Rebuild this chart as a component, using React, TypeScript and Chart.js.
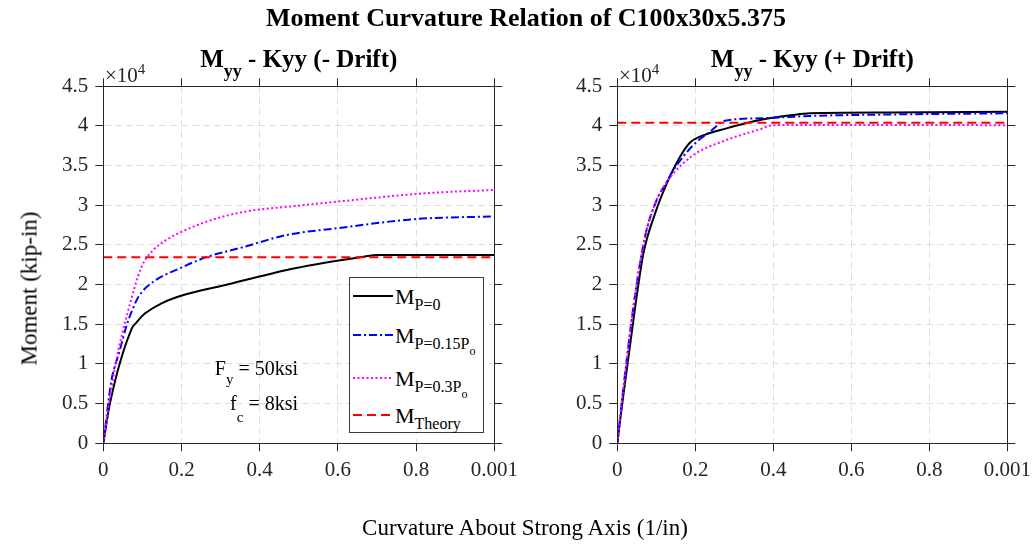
import React, { useEffect, useRef } from 'react';
import { Chart, registerables } from 'chart.js';

Chart.register(...registerables);

// ---------- data ----------
const xTickLabels = ['0', '0.2', '0.4', '0.6', '0.8', '0.001'];
const yTickLabels = ['0', '0.5', '1', '1.5', '2', '2.5', '3', '3.5', '4', '4.5'];

// Left panel: M_yy - Kyy (- Drift)   (curvature in units of 1e-3 1/in, moment in kip-in)
const negK_P0 = [0, 0.017, 0.073, 0.083, 0.096, 0.107, 0.149, 0.205, 0.32, 0.49, 0.665, 0.7, 0.8, 1.0];
const negM_P0 = [0, 5040, 14500, 15130, 15880, 16390, 17650, 18690, 20040, 22060, 23520, 23750, 23750, 23750];
const negK_P15 = [0, 0.021, 0.04, 0.06, 0.075, 0.09, 0.128, 0.192, 0.26, 0.362, 0.469, 0.597, 0.8, 1.0];
const negM_P15 = [0, 7980, 11340, 14910, 16900, 18480, 20370, 21970, 23400, 24780, 26260, 27100, 28270, 28600];
const negK_P30 = [0, 0.03, 0.064, 0.098, 0.128, 0.16, 0.192, 0.277, 0.362, 0.49, 0.597, 0.82, 1.0];
const negM_P30 = [0, 9660, 16800, 22260, 24370, 25600, 26470, 28150, 29190, 29910, 30450, 31510, 31930];
const negTheory = 23450;

// Right panel: M_yy - Kyy (+ Drift)
const posK_P0 = [0, 0.015, 0.046, 0.067, 0.097, 0.127, 0.161, 0.186, 0.212, 0.28, 0.366, 0.45, 0.494, 0.7, 1.0];
const posM_P0 = [0, 5870, 17220, 23950, 28990, 32770, 36130, 37890, 38650, 39700, 40750, 41380, 41600, 41700, 41800];
const posK_P15 = [0, 0.015, 0.045, 0.071, 0.101, 0.125, 0.144, 0.195, 0.238, 0.276, 0.366, 0.494, 0.7, 1.0];
const posM_P15 = [0, 6720, 18480, 26040, 30670, 32800, 34450, 37600, 39280, 40670, 40960, 41260, 41450, 41600];
const posK_P30 = [0, 0.015, 0.045, 0.071, 0.101, 0.125, 0.144, 0.195, 0.28, 0.366, 0.4, 0.5, 0.7, 1.0];
const posM_P30 = [0, 6720, 18480, 26040, 30670, 32800, 34030, 36340, 38230, 39580, 40100, 40120, 40120, 40100];
const posTheory = 40400;

const theoryK = [0, 1.0];

// ---------- styles ----------
const FONT = "'Liberation Serif', 'Times New Roman', Times, serif";
const AX = '#262626';
const GRID = '#dedede';

const STYLE_P0 = { color: '#000000', dash: [] as number[] };
const STYLE_P15 = { color: '#0000ff', dash: [8, 3, 2, 3] };
const STYLE_P30 = { color: '#ff00ff', dash: [2, 2.5] };
const STYLE_TH = { color: '#ff0000', dash: [9, 5] };

function pts(k: number[], m: number[]) {
  return k.map((x, i) => ({ x, y: m[i] }));
}

function buildDatasets(
  k0: number[], m0: number[], k15: number[], m15: number[], k30: number[], m30: number[], th: number
) {
  const base = { pointRadius: 0, borderWidth: 2, fill: false, cubicInterpolationMode: 'monotone' as const };
  return [
    { ...base, label: 'P=0', data: pts(k0, m0), borderColor: STYLE_P0.color, borderDash: STYLE_P0.dash, order: 3 },
    { ...base, label: 'P=0.15Po', data: pts(k15, m15), borderColor: STYLE_P15.color, borderDash: STYLE_P15.dash, order: 2 },
    { ...base, label: 'P=0.3Po', data: pts(k30, m30), borderColor: STYLE_P30.color, borderDash: STYLE_P30.dash, order: 1 },
    { ...base, label: 'Theory', data: pts(theoryK, [th, th]), borderColor: STYLE_TH.color, borderDash: STYLE_TH.dash, order: 0 },
  ];
}

function makeOptions(yW: number, y2W: number, topH: number, botH: number): any {
  const tickFont = { family: FONT, size: 21 };
  const gridMain = {
    color: GRID, lineWidth: 1, drawTicks: true, tickLength: 8, tickColor: AX, tickWidth: 1, tickBorderDash: [],
  };
  const gridSecondary = {
    drawOnChartArea: false, drawTicks: true, tickLength: 8, tickColor: AX, tickWidth: 1, tickBorderDash: [],
  };
  const border = { color: AX, width: 1, z: 1 };
  return {
    animation: false,
    responsive: false,
    maintainAspectRatio: false,
    devicePixelRatio: 1,
    layout: { padding: 0 },
    plugins: { legend: { display: false }, title: { display: false }, tooltip: { enabled: false } },
    scales: {
      x: {
        type: 'linear', position: 'bottom', min: 0, max: 1,
        afterFit: (s: any) => { s.height = botH; s.paddingLeft = 0; s.paddingRight = 0; },
        ticks: {
          stepSize: 0.2, autoSkip: false, maxRotation: 0, minRotation: 0, padding: 7, color: AX, font: tickFont,
          callback: (v: any) => xTickLabels[Math.round(Number(v) / 0.2)],
        },
        grid: gridMain,
        border: { ...border, dash: [7, 4] },
      },
      x2: {
        type: 'linear', position: 'top', min: 0, max: 1,
        afterFit: (s: any) => { s.height = topH; s.paddingLeft = 0; s.paddingRight = 0; },
        ticks: { stepSize: 0.2, display: false },
        grid: gridSecondary,
        border,
      },
      y: {
        type: 'linear', position: 'left', min: 0, max: 45000,
        afterFit: (s: any) => { s.width = yW; s.paddingTop = 0; s.paddingBottom = 0; },
        ticks: {
          stepSize: 5000, autoSkip: false, padding: 7, color: AX, font: tickFont,
          callback: (v: any) => yTickLabels[Math.round(Number(v) / 5000)],
        },
        grid: gridMain,
        border: { ...border, dash: [7, 4] },
      },
      y2: {
        type: 'linear', position: 'right', min: 0, max: 45000,
        afterFit: (s: any) => { s.width = y2W; s.paddingTop = 0; s.paddingBottom = 0; },
        ticks: { stepSize: 5000, display: false },
        grid: gridSecondary,
        border,
      },
    },
  };
}

function Panel(props: { left: number; datasets: any[]; yW: number; y2W: number }) {
  const ref = useRef<HTMLCanvasElement>(null);
  useEffect(() => {
    const chart = new Chart(ref.current as HTMLCanvasElement, {
      type: 'line',
      data: { datasets: props.datasets },
      options: makeOptions(props.yW, props.y2W, 86.3, 100.7),
    });
    return () => chart.destroy();
  }, []);
  return (
    <canvas
      ref={ref}
      width={518}
      height={544}
      style={{ position: 'absolute', left: props.left, top: 0, width: 518, height: 544 }}
    />
  );
}

const subStyle = (size: number, drop: number): React.CSSProperties => ({
  fontSize: size, verticalAlign: `${-drop}px`, lineHeight: 0,
});

function Legend() {
  const rows = [
    { s: STYLE_P0, sub: 'P=0', subsub: '', y: 18 },
    { s: STYLE_P15, sub: 'P=0.15P', subsub: 'o', y: 57 },
    { s: STYLE_P30, sub: 'P=0.3P', subsub: 'o', y: 100 },
    { s: STYLE_TH, sub: 'Theory', subsub: '', y: 137 },
  ];
  return (
    <div
      style={{
        position: 'absolute', left: 349, top: 277, width: 133, height: 154,
        border: '1px solid #3a3a3a', background: '#ffffff', fontFamily: FONT, color: '#000',
      }}
    >
      <svg width={133} height={154} style={{ position: 'absolute', left: 0, top: 0 }}>
        {rows.map((r, i) => (
          <line
            key={i}
            x1={3} x2={43} y1={r.y} y2={r.y}
            stroke={r.s.color} strokeWidth={2}
            strokeDasharray={r.s.dash.length ? r.s.dash.join(' ') : undefined}
          />
        ))}
      </svg>
      {rows.map((r, i) => (
        <div
          key={i}
          style={{ position: 'absolute', left: 45, top: r.y + 8 - 18.4, fontSize: 22, lineHeight: '22px', whiteSpace: 'nowrap' }}
        >
          M<span style={subStyle(16, 6)}>{r.sub}{r.subsub ? <span style={subStyle(12, 6)}>{r.subsub}</span> : null}</span>
        </div>
      ))}
    </div>
  );
}

function PanelTitle(props: { center: number; text: string }) {
  return (
    <div
      style={{
        position: 'absolute', left: props.center - 200, top: 45.8, width: 400, textAlign: 'center',
        fontFamily: FONT, fontWeight: 'bold', fontSize: 25, lineHeight: '25px', whiteSpace: 'nowrap', color: '#000',
      }}
    >
      M<span style={subStyle(18, 10)}>yy</span> {props.text}
    </div>
  );
}

function Exponent(props: { left: number }) {
  return (
    <div
      style={{
        position: 'absolute', left: props.left, top: 65, fontFamily: FONT, fontSize: 21, lineHeight: '21px',
        color: AX, whiteSpace: 'nowrap',
      }}
    >
      ×10<span style={{ fontSize: 15, verticalAlign: '8px', lineHeight: 0 }}>4</span>
    </div>
  );
}

export default function App() {
  const leftSets = buildDatasets(negK_P0, negM_P0, negK_P15, negM_P15, negK_P30, negM_P30, negTheory);
  const rightSets = buildDatasets(posK_P0, posM_P0, posK_P15, posM_P15, posK_P30, posM_P30, posTheory);
  return (
    <div
      style={{
        position: 'fixed', left: 0, top: 0, width: 1036, height: 544, background: '#ffffff', overflow: 'hidden',
      }}
    >
      <Panel left={0} datasets={leftSets} yW={103.3} y2W={23.7} />
      <Panel left={518} datasets={rightSets} yW={99.3} y2W={28.7} />

      <div
        style={{
          position: 'absolute', left: 126, top: 5.2, width: 800, textAlign: 'center', fontFamily: FONT,
          fontWeight: 'bold', fontSize: 26, lineHeight: '26px', color: '#000', whiteSpace: 'nowrap',
        }}
      >
        Moment Curvature Relation of C100x30x5.375
      </div>

      <PanelTitle center={298.8} text="- Kyy (- Drift)" />
      <PanelTitle center={812.3} text="- Kyy (+ Drift)" />

      <Exponent left={105} />
      <Exponent left={619} />

      <Legend />

      <div
        style={{
          position: 'absolute', left: 100, top: 375 - 16.75, width: 198, textAlign: 'right', fontFamily: FONT,
          fontSize: 20, lineHeight: '20px', color: '#000', whiteSpace: 'nowrap',
        }}
      >
        F<span style={subStyle(15, 9)}>y</span> = 50ksi
      </div>
      <div
        style={{
          position: 'absolute', left: 100, top: 410 - 16.75, width: 198, textAlign: 'right', fontFamily: FONT,
          fontSize: 20, lineHeight: '20px', color: '#000', whiteSpace: 'nowrap',
        }}
      >
        f<span style={subStyle(15, 12)}>c</span> = 8ksi
      </div>

      <div
        style={{
          position: 'absolute', left: 125, top: 515.7, width: 800, textAlign: 'center', fontFamily: FONT,
          fontSize: 23, lineHeight: '23px', color: '#000', whiteSpace: 'nowrap',
        }}
      >
        Curvature About Strong Axis (1/in)
      </div>

      <div
        style={{
          position: 'absolute', left: 29 - 150, top: 288 - 11.5, width: 300, textAlign: 'center', fontFamily: FONT,
          fontSize: 23, lineHeight: '23px', color: '#000', whiteSpace: 'nowrap', transform: 'rotate(-90deg)',
          transformOrigin: '50% 50%',
        }}
      >
        Moment (kip-in)
      </div>
    </div>
  );
}
